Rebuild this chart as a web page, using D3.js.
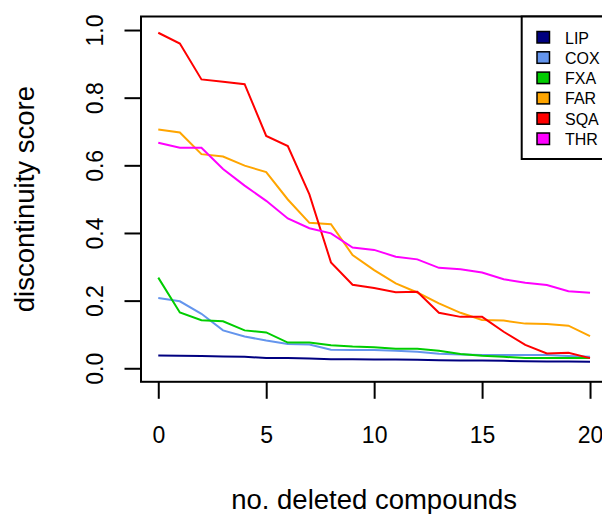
<!DOCTYPE html>
<html>
<head>
<meta charset="utf-8">
<script src="https://d3js.org/d3.v7.min.js"></script>
<style>
  body { margin: 0; background: #fff; }
  text { font-family: "Liberation Sans", Arial, sans-serif; fill: #000; }
</style>
</head>
<body>
<svg id="drawing-area"></svg>
<script>
// number of deleted compounds
var deleted = [0,1,2,3,4,5,6,7,8,9,10,11,12,13,14,15,16,17,18,19,20];

var lip = [0.038,0.037,0.036,0.035,0.034,0.030,0.030,0.029,0.027,0.027,0.026,0.026,0.025,0.024,0.023,0.023,0.022,0.021,0.020,0.020,0.019];
var cox = [0.208,0.198,0.161,0.112,0.094,0.082,0.072,0.070,0.055,0.054,0.054,0.052,0.049,0.043,0.041,0.039,0.039,0.039,0.039,0.036,0.034];
var fxa = [0.268,0.165,0.142,0.139,0.112,0.106,0.076,0.076,0.068,0.064,0.062,0.058,0.058,0.052,0.042,0.037,0.034,0.030,0.030,0.030,0.030];
var far = [0.706,0.697,0.633,0.626,0.599,0.580,0.499,0.430,0.426,0.335,0.290,0.251,0.224,0.192,0.164,0.143,0.141,0.132,0.131,0.126,0.095];
var sqa = [0.992,0.960,0.854,0.847,0.840,0.687,0.657,0.514,0.313,0.247,0.237,0.225,0.226,0.164,0.152,0.152,0.108,0.069,0.044,0.046,0.030];
var thr = [0.667,0.652,0.652,0.589,0.540,0.495,0.443,0.414,0.399,0.357,0.350,0.330,0.322,0.297,0.293,0.283,0.263,0.253,0.246,0.228,0.223];

var seriesNames = ["LIP","COX","FXA","FAR","SQA","THR"];
var seriesValues = [lip, cox, fxa, far, sqa, thr];
var seriesColors = ["#000080","#6495ED","#00CD00","#FFA500","#FF0000","#FF00FF"];

var xTicks = [0,5,10,15,20];
var yTicks = [0,0.2,0.4,0.6,0.8,1.0];

var width = 602;
var height = 514;
// plot region (right edge runs past the window, as in the original)
var pLeft = 141, pRight = 607.3, pTop = 16.5, pBottom = 381.8;

var svg = d3.select("#drawing-area")
    .attr("width", width)
    .attr("height", height);

// R style 4% padding
var xScale = d3.scaleLinear()
    .domain([-0.8, 20.8])
    .range([pLeft, pRight]);

var yScale = d3.scaleLinear()
    .domain([-0.04, 1.04])
    .range([pBottom, pTop]);

svg.append("clipPath")
    .attr("id", "plot-clip")
    .append("rect")
    .attr("x", pLeft)
    .attr("y", pTop)
    .attr("width", pRight - pLeft)
    .attr("height", pBottom - pTop);

var line = d3.line()
    .x(function(d, i){ return xScale(deleted[i]); })
    .y(function(d){ return yScale(d); });

svg.append("g")
    .attr("clip-path", "url(#plot-clip)")
    .selectAll(".series")
    .data(seriesValues)
    .enter()
    .append("path")
    .attr("class", "series")
    .attr("fill", "none")
    .attr("stroke", function(d, i){ return seriesColors[i]; })
    .attr("stroke-width", 2)
    .attr("d", line);

// axes
var xAxis = d3.axisBottom(xScale)
    .tickValues(xTicks)
    .tickSize(17)
    .tickFormat(d3.format("d"));

var gx = svg.append("g")
    .attr("transform", "translate(0," + pBottom + ")")
    .call(xAxis);
gx.select(".domain").remove();
gx.selectAll("line").attr("stroke-width", 2);
gx.selectAll("text")
    .attr("y", 61)
    .attr("dy", 0)
    .style("font-size", "23px");

var yAxis = d3.axisLeft(yScale)
    .tickValues(yTicks)
    .tickSize(16.5)
    .tickFormat(d3.format(".1f"));

var gy = svg.append("g")
    .attr("transform", "translate(" + pLeft + ",0)")
    .call(yAxis);
gy.select(".domain").remove();
gy.selectAll("line").attr("stroke-width", 2);
gy.selectAll("text")
    .attr("x", 0)
    .attr("dy", 0)
    .attr("text-anchor", "middle")
    .attr("transform", "translate(-38.3,0) rotate(-90)")
    .style("font-size", "23px");

// box
svg.append("rect")
    .attr("x", pLeft)
    .attr("y", pTop)
    .attr("width", pRight - pLeft)
    .attr("height", pBottom - pTop)
    .attr("fill", "none")
    .attr("stroke", "#000")
    .attr("stroke-width", 2);

svg.append("text")
    .attr("x", (pLeft + pRight) / 2)
    .attr("y", 509)
    .attr("text-anchor", "middle")
    .style("font-size", "27.5px")
    .text("no. deleted compounds");

svg.append("text")
    .attr("transform", "translate(34," + (pTop + pBottom) / 2 + ") rotate(-90)")
    .attr("text-anchor", "middle")
    .style("font-size", "27.5px")
    .text("discontinuity score");

// legend, top right
var legend = svg.append("g");
legend.append("rect")
    .attr("x", 521.7)
    .attr("y", pTop)
    .attr("width", pRight - 521.7)
    .attr("height", 159 - pTop)
    .attr("fill", "#fff")
    .attr("stroke", "#000")
    .attr("stroke-width", 2);

var items = legend.selectAll(".item")
    .data(seriesNames)
    .enter()
    .append("g")
    .attr("class", "item")
    .attr("transform", function(d, i){ return "translate(0," + (37.5 + i * 20.3) + ")"; });

items.append("rect")
    .attr("x", 537)
    .attr("y", -6)
    .attr("width", 12.5)
    .attr("height", 11.5)
    .attr("fill", function(d, i){ return seriesColors[i]; })
    .attr("stroke", "#000")
    .attr("stroke-width", 1.5);

items.append("text")
    .attr("x", 565)
    .attr("y", 6)
    .style("font-size", "16px")
    .text(function(d){ return d; });
</script>
</body>
</html>
